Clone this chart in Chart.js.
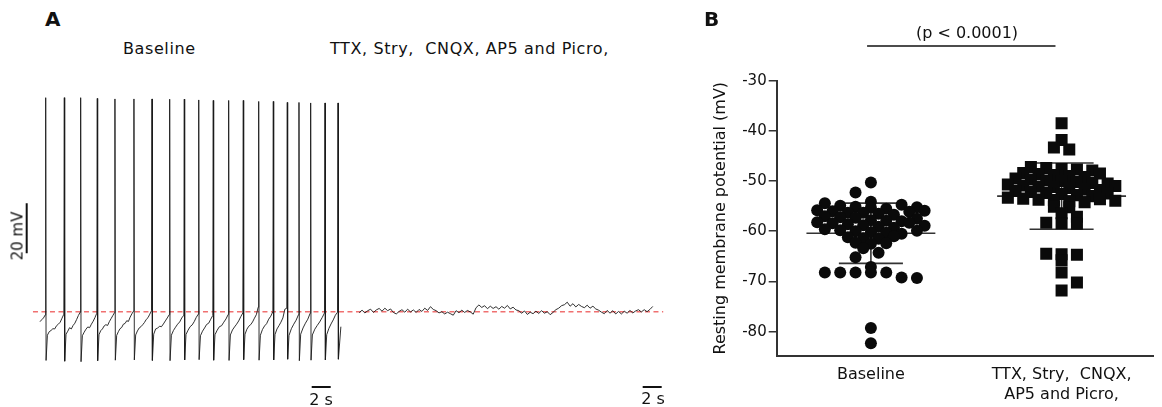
<!DOCTYPE html>
<html>
<head>
<meta charset="utf-8">
<script src="https://cdn.jsdelivr.net/npm/chart.js@4"></script>
<style>
  html, body { margin: 0; padding: 0; background: #fff; }
  #fig { position: relative; width: 1162px; height: 407px; overflow: hidden; font-family: "DejaVu Sans", sans-serif; color: #111; }
  #fig canvas { position: absolute; }
  .lbl { position: absolute; white-space: pre; line-height: 1; font-size: 16px; }
  .wide { letter-spacing: 0.6px; }
  .panel { font-weight: bold; font-size: 20px; }
</style>
</head>
<body>
<div id="fig">
  <canvas id="traceChart" width="690" height="347" style="left:0;top:60px"></canvas>
  <canvas id="dotChart" width="472" height="407" style="left:690px;top:0"></canvas>
  <div class="lbl panel" style="left:45px;top:9px">A</div>
  <div class="lbl panel" style="left:704px;top:9px">B</div>
  <div class="lbl wide" style="left:123px;top:41px">Baseline</div>
  <div class="lbl wide" style="left:330px;top:41px">TTX, Stry,  CNQX, AP5 and Picro,</div>
  <div class="lbl" style="left:967px;top:25px;transform:translateX(-50%)">(p &lt; 0.0001)</div>
  <div class="lbl" style="left:18px;top:236px;font-size:15px;transform:translate(-50%,-50%) rotate(-90deg)">20 mV</div>
  <div class="lbl" style="left:321px;top:392px;transform:translateX(-50%)">2 s</div>
  <div class="lbl" style="left:653px;top:391px;transform:translateX(-50%)">2 s</div>
</div>
<script>
// ---- panel A : membrane potential trace (s, mV) ----
const spikeTimes = [0.60, 2.56, 4.28, 6.03, 7.89, 9.89, 11.79, 13.65, 15.19, 16.71,
                    18.24, 19.86, 21.40, 23.02, 24.56, 26.03, 27.26, 28.49, 30.00, 31.37];
const spikePeaks = [25.6, 25.6, 25.6, 25.3, 25.1, 25.1, 25.1, 25.0, 25.0, 24.7,
                    24.5, 24.5, 24.5, 24.1, 24.1, 23.7, 23.7, 23.5, 23.5, 23.5];
const spikeTroughs = [-79.5, -79.8, -80.0, -79.6, -79.4, -79.3, -79.5, -79.6, -79.3, -79.2,
                      -79.4, -79.5, -79.2, -79.4, -79.3, -79.0, -79.6, -79.4, -79.3, -79.0];
const preSpike = [-64.0, -63.2, -62.5, -61.3];
// voltage samples between the AHP and the next spike
const interSpike = [
  [-69.4, -68.0, -67.5, -66.8, -66.9, -65.6, -65.0, -64.2, -62.6, -61.0],
  [-69.0, -67.8, -66.4, -66.9, -65.5, -64.6, -63.1, -61.5, -60.2],
  [-69.6, -68.2, -67.0, -66.1, -66.4, -65.0, -63.8, -62.3, -60.6],
  [-69.2, -67.6, -66.9, -65.7, -65.2, -65.5, -64.0, -62.8, -61.6, -60.4],
  [-69.5, -68.0, -66.8, -66.3, -65.0, -64.7, -63.6, -63.9, -62.2, -60.9, -59.8],
  [-69.3, -67.7, -66.5, -66.0, -65.2, -64.3, -63.1, -62.4, -61.0, -59.6],
  [-69.0, -66.9, -66.6, -65.8, -66.0, -64.9, -63.7, -62.5, -61.2],
  [-69.4, -67.5, -66.2, -65.0, -64.1, -62.5, -61.4],
  [-69.1, -67.4, -66.0, -65.3, -64.0, -62.3, -61.0],
  [-69.6, -67.8, -66.5, -65.1, -64.6, -63.0, -61.5],
  [-69.2, -67.4, -66.0, -65.6, -64.2, -62.9, -61.1],
  [-69.3, -67.3, -66.1, -65.0, -63.7, -62.0, -60.5],
  [-69.0, -67.0, -65.8, -65.2, -64.1, -62.6, -61.2, -58.2],
  [-69.4, -67.1, -65.7, -64.8, -63.0, -61.8, -60.0],
  [-69.1, -66.9, -65.6, -64.2, -62.5, -59.0, -58.6],
  [-69.5, -66.8, -65.0, -63.4, -61.2],
  [-69.0, -66.5, -64.6, -63.0, -60.6],
  [-69.3, -67.0, -65.5, -64.1, -62.4, -60.5],
  [-69.2, -66.7, -64.9, -63.3, -61.4, -60.2]
];
const postSpike = [-66.0];
const drugStart = 33.6;   // s
const drugStep = 0.3;     // s
const drugTrace = [
  -60.4, -59.4, -60.5, -59.6, -59.0, -60.3, -59.3,
  -58.7, -59.8, -58.6, -59.6, -58.9,
  -60.3, -60.9, -59.9,
  -59.2, -60.2, -59.0, -60.1, -59.3, -60.3, -59.1, -59.9,
  -58.6, -59.5, -58.0, -59.1, -59.6,
  -60.5, -60.0, -60.9, -60.2, -60.8, -61.4,
  -59.6, -60.4, -59.4, -60.3, -59.5, -60.1, -61.0,
  -58.4, -57.3,
  -58.3, -57.6, -58.8, -57.8, -58.7, -58.0, -59.0, -57.9, -58.6, -57.5, -58.9, -58.2, -59.3,
  -59.6, -60.6, -59.7, -61.1, -60.2, -60.8, -59.8, -60.7, -59.6, -60.6, -60.0, -61.2, -60.3,
  -59.2, -58.6, -57.6, -57.2,
  -56.2, -57.8, -56.8, -58.1, -57.1, -57.9, -58.4, -57.4, -58.6, -57.8, -58.9,
  -59.4, -60.2, -60.8, -59.5, -60.6, -59.6, -60.9, -59.9, -60.9, -59.8, -60.6, -59.5, -60.5, -59.7,
  -59.2, -60.1, -59.2, -60.0, -59.1,
  -57.9
];
const restingMV = -60;

// ---- panel B : resting membrane potential (mV) ----
const groupLabels = ['Baseline', ['TTX, Stry,  CNQX,', 'AP5 and Picro,']];
const baselineRMP = [
  -50.3, -52.3, -54.1,
  -54.4, -54.9, -55.1, -55.3, -55.5, -54.7, -55.2,
  -55.8, -56.0, -56.3, -56.3, -56.5, -56.7, -56.1, -55.9,
  -57.0, -57.2, -57.3, -57.8, -57.9, -58.0, -57.5,
  -58.2, -58.4, -58.6, -58.8, -59.1, -59.3, -58.3, -58.9,
  -59.6, -59.8, -60.0, -60.2, -60.3, -60.5, -59.9,
  -61.2, -61.4, -61.5, -61.0,
  -62.3, -62.5, -62.4,
  -63.4, -64.3, -65.2, -67.1,
  -68.2, -68.2, -68.2, -68.2, -68.2, -69.2, -69.3,
  -79.3, -82.3
];
const drugRMP = [
  -38.5, -41.8, -43.3, -43.7,
  -47.2, -47.4, -47.6, -47.7, -47.9,
  -48.4, -48.6, -48.8, -49.0, -49.2, -48.5,
  -49.5, -49.7, -49.9, -50.0, -50.2, -50.4, -50.5,
  -50.7, -50.9, -51.1, -51.2, -51.4, -51.6, -51.8, -51.0,
  -52.0, -52.2, -52.4, -52.6, -52.8, -53.0, -52.5,
  -53.3, -53.5, -53.7, -53.8, -54.0, -54.2, -53.6, -53.9,
  -55.1, -55.2, -56.4, -57.1,
  -58.3, -58.4, -58.5,
  -64.5, -64.6, -64.7, -65.8,
  -68.2, -70.2, -71.8
];
const groupMean = [-60.4, -53.0];
const groupSD = [6.0, 6.6];
const yTicks = [-80, -70, -60, -50, -40, -30];

const ink = '#111';
Chart.defaults.font.family = '"DejaVu Sans", sans-serif';
Chart.defaults.color = ink;

function buildTrace() {
  const pts = [];
  const addRun = (vals, t0, t1) => vals.forEach((v, j) => {
    const f = vals.length === 1 ? 1 : j / (vals.length - 1);
    pts.push({ x: t0 + (t1 - t0) * f, y: v });
  });
  addRun(preSpike, 0, spikeTimes[0] - 0.05);
  spikeTimes.forEach((ts, i) => {
    pts.push({ x: ts, y: spikePeaks[i] });
    pts.push({ x: ts + 0.04, y: spikeTroughs[i] });
    if (i < interSpike.length) addRun(interSpike[i], ts + 0.18, spikeTimes[i + 1] - 0.05);
    else addRun(postSpike, ts + 0.3, ts + 0.3);
  });
  return pts;
}

const scaleBars = {
  id: 'scaleBars',
  afterDatasetsDraw(chart, args, o) {
    const { ctx, scales: { x, y } } = chart;
    ctx.save();
    ctx.strokeStyle = ink;
    ctx.lineWidth = 2;
    ctx.beginPath();
    ctx.moveTo(x.getPixelForValue(o.vBar.t), y.getPixelForValue(o.vBar.v));
    ctx.lineTo(x.getPixelForValue(o.vBar.t), y.getPixelForValue(o.vBar.v + o.mV));
    o.tBars.forEach(b => {
      ctx.moveTo(x.getPixelForValue(b.t), y.getPixelForValue(b.v));
      ctx.lineTo(x.getPixelForValue(b.t + o.sec), y.getPixelForValue(b.v));
    });
    ctx.stroke();
    ctx.restore();
  }
};

new Chart(document.getElementById('traceChart'), {
  type: 'scatter',
  data: {
    datasets: [
      { data: buildTrace(), showLine: true, borderColor: '#1a1a1a', borderWidth: 0.9, pointRadius: 0, order: 1 },
      { data: drugTrace.map((v, i) => ({ x: drugStart + i * drugStep, y: v })),
        showLine: true, borderColor: '#1a1a1a', borderWidth: 0.9, pointRadius: 0, order: 1 },
      { data: [{ x: -0.74, y: restingMV }, { x: 65.6, y: restingMV }], showLine: true,
        borderColor: '#f07070', borderWidth: 1.5, borderDash: [5, 3.5], pointRadius: 0, order: 2 }
    ]
  },
  options: {
    responsive: false,
    animation: false,
    events: [],
    layout: { padding: 0 },
    plugins: {
      legend: { display: false },
      tooltip: { enabled: false },
      scaleBars: { mV: 20, sec: 2, vBar: { t: -1.4, v: -36.6 }, tBars: [{ t: 28.6, v: -90.1 }, { t: 63.44, v: -90.1 }] }
    },
    scales: {
      x: { type: 'linear', display: false, min: -4.21, max: 68.42 },
      y: { display: false, min: -98.12, max: 40.68 }
    }
  },
  plugins: [scaleBars]
});

// scatter-dot layout: values binned into rows, each row centred on its group
function swarm(values, center) {
  const binMV = 1.25, pxPerMV = 5.02, slotPx = 15.7, slotUnits = 0.0805, minGap = 11;
  const rows = new Map();
  values.forEach(v => {
    const r = Math.round(v / binMV);
    if (!rows.has(r)) rows.set(r, []);
    rows.get(r).push(v);
  });
  const placed = [], out = [];
  let flip = -1;
  [...rows.keys()].sort((a, b) => b - a).forEach(r => {
    const vals = rows.get(r);
    let slots = vals.map((v, j) => j - (vals.length - 1) / 2);
    if (vals.length === 1) {
      const free = s => placed.every(p => Math.hypot((p.s - s) * slotPx, (p.v - vals[0]) * pxPerMV) >= minGap);
      if (!free(0)) {
        if (free(flip)) slots = [flip];
        else if (free(-flip)) slots = [-flip];
        flip = -flip;
      }
    }
    vals.forEach((v, j) => {
      placed.push({ s: slots[j], v });
      out.push({ x: center + slots[j] * slotUnits, y: v });
    });
  });
  return out;
}

const meanSD = {
  id: 'meanSD',
  beforeDatasetsDraw(chart, args, o) {
    const { ctx, scales: { x, y } } = chart;
    const hline = (c0, c1, v) => {
      ctx.moveTo(x.getPixelForValue(c0), y.getPixelForValue(v));
      ctx.lineTo(x.getPixelForValue(c1), y.getPixelForValue(v));
    };
    ctx.save();
    ctx.strokeStyle = '#333';
    ctx.lineWidth = 1.6;
    ctx.beginPath();
    groupMean.forEach((m, i) => {
      const c = i + 1, sd = groupSD[i];
      hline(c - o.meanHalf, c + o.meanHalf, m);
      hline(c - o.capHalf, c + o.capHalf, m + sd);
      hline(c - o.capHalf, c + o.capHalf, m - sd);
      ctx.moveTo(x.getPixelForValue(c), y.getPixelForValue(m + sd));
      ctx.lineTo(x.getPixelForValue(c), y.getPixelForValue(m - sd));
    });
    ctx.stroke();
    ctx.restore();
  },
  afterDraw(chart, args, o) {
    const { ctx, scales: { x, y } } = chart;
    ctx.save();
    ctx.strokeStyle = ink;
    ctx.lineWidth = 1.5;
    ctx.beginPath();
    ctx.moveTo(x.getPixelForValue(o.bracket.from), y.getPixelForValue(o.bracket.v));
    ctx.lineTo(x.getPixelForValue(o.bracket.to), y.getPixelForValue(o.bracket.v));
    ctx.stroke();
    ctx.restore();
  }
};

new Chart(document.getElementById('dotChart'), {
  type: 'scatter',
  data: {
    datasets: [
      { label: 'Baseline', data: swarm(baselineRMP, 1), pointStyle: 'circle', pointRadius: 6,
        backgroundColor: '#0a0a0a', borderWidth: 0 },
      { label: 'TTX, Stry, CNQX, AP5 and Picro', data: swarm(drugRMP, 2), pointStyle: 'rect', pointRadius: 8.5,
        backgroundColor: '#0a0a0a', borderWidth: 0 }
    ]
  },
  options: {
    responsive: false,
    animation: false,
    events: [],
    layout: { padding: { top: 80.7, right: 0, bottom: 0, left: 0 } },
    plugins: {
      legend: { display: false },
      tooltip: { enabled: false },
      meanSD: { meanHalf: 0.338, capHalf: 0.168, bracket: { from: 0.98, to: 1.968, v: -23.1 } }
    },
    scales: {
      x: {
        type: 'linear', min: 0.506, max: 2.482,
        afterBuildTicks: s => { s.ticks = groupLabels.map((l, i) => ({ value: i + 1 })); },
        afterFit: s => { s.height = 51.3; },
        ticks: { callback: v => groupLabels[v - 1], autoSkip: false, maxRotation: 0, padding: 9,
                 font: { size: 16, lineHeight: 1.25 }, color: ink },
        grid: { display: false, drawTicks: false },
        border: { color: '#333', width: 2 }
      },
      y: {
        min: -84.8, max: -30,
        afterBuildTicks: s => { s.ticks = yTicks.map(v => ({ value: v })); },
        afterFit: s => { s.width = 86.7; },
        ticks: { padding: 2, font: { size: 15 }, color: ink },
        grid: { drawOnChartArea: false, drawTicks: true, tickLength: 8, color: '#333', lineWidth: 1.5 },
        border: { color: '#333', width: 2 },
        title: { display: true, text: 'Resting membrane potential (mV)', font: { size: 16 },
                 padding: { top: 21, bottom: 0 }, color: ink }
      }
    }
  },
  plugins: [meanSD]
});
</script>
</body>
</html>
